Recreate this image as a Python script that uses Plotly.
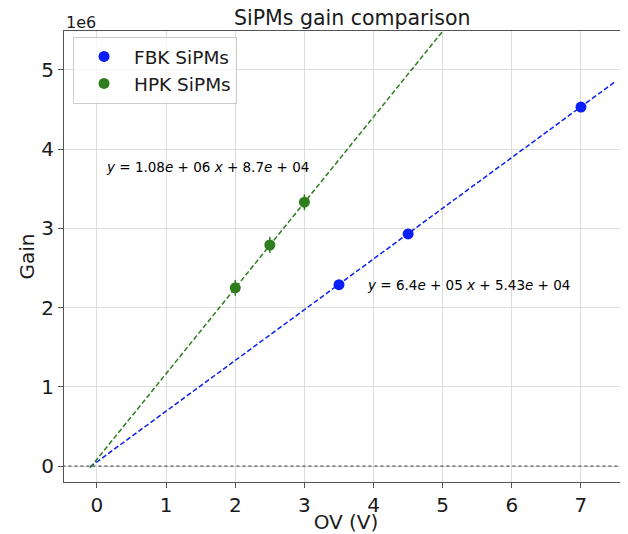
import plotly.graph_objects as go

# Data
fbk_ov = [3.5, 4.5, 7.0]
fbk_gain = [2.29e6, 2.93e6, 4.53e6]
fbk_err = [0.04e6, 0.04e6, 0.04e6]
hpk_ov = [2.0, 2.5, 3.0]
hpk_gain = [2.25e6, 2.79e6, 3.33e6]
hpk_err = [0.1e6, 0.1e6, 0.1e6]

fbk_slope, fbk_icpt = 6.4e5, 5.43e4
hpk_slope, hpk_icpt = 1.08e6, 8.7e4
fit_x = [-0.1, 7.5]

x_ticks = [0, 1, 2, 3, 4, 5, 6, 7]
y_ticks = [0, 1e6, 2e6, 3e6, 4e6, 5e6]
y_ticktext = ["0", "1", "2", "3", "4", "5"]

BLUE = "#0a1ff5"
GREEN = "#2e7d1f"
FONT = "DejaVu Sans"
TXT = "#1a1a1a"

fig = go.Figure()

# zero line
fig.add_trace(go.Scatter(x=[-0.5, 7.7], y=[0, 0], mode="lines",
                         line=dict(color="#555555", width=1.3, dash="dot"),
                         showlegend=False, hoverinfo="skip"))

# fit lines
fig.add_trace(go.Scatter(x=fit_x, y=[fbk_slope * v + fbk_icpt for v in fit_x], mode="lines",
                         line=dict(color=BLUE, width=1.5, dash="5px,2.5px"),
                         showlegend=False))
fig.add_trace(go.Scatter(x=fit_x, y=[hpk_slope * v + hpk_icpt for v in fit_x], mode="lines",
                         line=dict(color=GREEN, width=1.5, dash="5px,2.5px"),
                         showlegend=False))

fig.add_trace(go.Scatter(x=fbk_ov, y=fbk_gain, mode="markers", name="FBK SiPMs",
                         marker=dict(color=BLUE, size=11),
                         error_y=dict(type="data", array=fbk_err, color=BLUE, thickness=1.5, width=0)))
fig.add_trace(go.Scatter(x=hpk_ov, y=hpk_gain, mode="markers", name="HPK SiPMs",
                         marker=dict(color=GREEN, size=11),
                         error_y=dict(type="data", array=hpk_err, color=GREEN, thickness=1.5, width=0)))

fig.add_annotation(x=0.1, y=3.77e6, xanchor="left", yanchor="middle", showarrow=False,
                   text="<i>y</i> = 1.08<i>e</i> + 06 <i>x</i> + 8.7<i>e</i> + 04",
                   font=dict(family=FONT, size=13.5, color="black"))
fig.add_annotation(x=3.88, y=2.29e6, xanchor="left", yanchor="middle", showarrow=False,
                   text="<i>y</i> = 6.4<i>e</i> + 05 <i>x</i> + 5.43<i>e</i> + 04",
                   font=dict(family=FONT, size=13.5, color="black"))
fig.add_annotation(xref="paper", yref="paper", x=0.0, y=1.0, xanchor="left", yanchor="bottom",
                   showarrow=False, text="1e6", font=dict(family=FONT, size=16, color=TXT),
                   yshift=-3)

fig.update_layout(
    width=620, height=526,
    margin=dict(l=56, r=0, t=23, b=52),
    paper_bgcolor="white", plot_bgcolor="white",
    font=dict(family=FONT, color=TXT),
    title=dict(text="SiPMs gain comparison", x=0.511, xref="paper", xanchor="center",
               y=1 - 9.5 / 526, yref="container", yanchor="middle",
               font=dict(family=FONT, size=20.5, color=TXT)),
    legend=dict(x=0.016, y=0.987, xanchor="left", yanchor="top", itemwidth=50,
                bgcolor="rgba(255,255,255,0.8)", bordercolor="#cccccc", borderwidth=1,
                font=dict(family=FONT, size=18.5, color=TXT)),
    xaxis=dict(range=[-0.477, 7.68], tickvals=x_ticks, showgrid=True, gridcolor="#dddddd",
               zeroline=False, showline=True, linecolor="#555555", linewidth=1.2, mirror=True,
               ticks="outside", ticklen=5, tickcolor="#555555", automargin=False,
               tickfont=dict(family=FONT, size=20, color=TXT),
               title=dict(text="OV (V)", font=dict(family=FONT, size=20, color=TXT), standoff=7)),
    yaxis=dict(range=[-0.2e6, 5.49e6], tickvals=y_ticks, ticktext=y_ticktext, showgrid=True,
               gridcolor="#dddddd", zeroline=False, showline=True, linecolor="#555555",
               linewidth=1.2, mirror=False, ticks="outside", ticklen=5, tickcolor="#555555",
               automargin=False,
               tickfont=dict(family=FONT, size=20, color=TXT),
               title=dict(text="Gain", font=dict(family=FONT, size=20, color=TXT), standoff=1)),
)

fig.write_html("out.html")
